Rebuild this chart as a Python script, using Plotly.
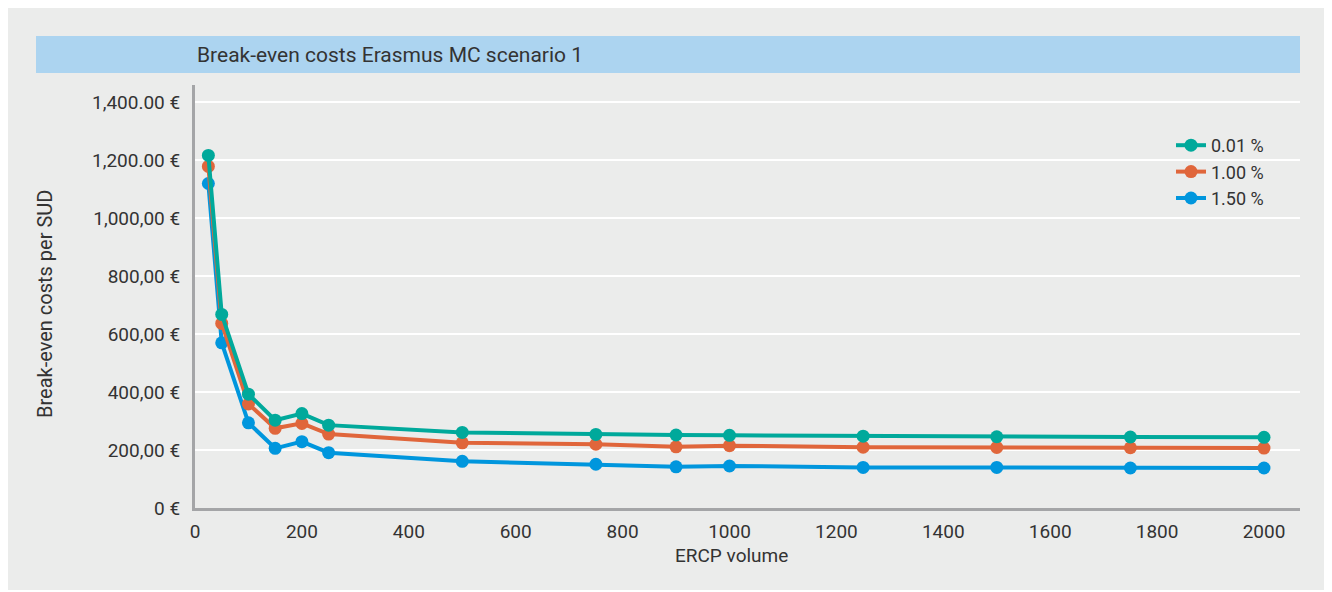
import plotly.graph_objects as go

volume = [25, 50, 100, 150, 200, 250, 500, 750, 900, 1000, 1250, 1500, 1750, 2000]
cost_001 = [1217, 668, 393, 303, 326, 286, 261, 254, 252, 251, 248, 246, 245, 244]
cost_100 = [1179, 637, 359, 275, 292, 255, 225, 220, 211, 215, 210, 209, 208, 207]
cost_150 = [1120, 570, 294, 206, 229, 191, 161, 151, 142, 145, 140, 140, 138, 138]
series_names = ["0.01 %", "1.00 %", "1.50 %"]
colors = ["#00a99b", "#e0663b", "#0096dd"]
y_tickvals = [0, 200, 400, 600, 800, 1000, 1200, 1400]
y_ticktext = ["0 €", "200,00 €", "400,00 €", "600,00 €", "800,00 €", "1,000,00 €", "1,200.00 €", "1,400.00 €"]
x_tickvals = [0, 200, 400, 600, 800, 1000, 1200, 1400, 1600, 1800, 2000]

FONT = "Roboto, Open Sans, sans-serif"
TXT = "#333333"

fig = go.Figure()
data = [cost_001, cost_100, cost_150]
# add blue first so teal is drawn on top; legend reversed to list teal first
for i in [2, 1, 0]:
    fig.add_trace(go.Scatter(
        x=volume, y=data[i], name=series_names[i], mode="lines+markers",
        line=dict(color=colors[i], width=4),
        marker=dict(color=colors[i], size=13),
    ))

OFF = 8  # page body margin
W, H = 1332 - OFF, 592 - OFF
L = 195 - OFF
T = 85 - OFF
R = W - (1300 - OFF)
B = H - (508 - OFF)
pw = W - L - R
ph = H - T - B

def px_x(p):
    return (p - OFF - L) / pw

def px_y(p):
    return (H - B - (p - OFF)) / ph

shapes = [
    dict(type="rect", xref="paper", yref="paper", x0=px_x(7), x1=px_x(1325), y0=px_y(590), y1=px_y(7),
         fillcolor="#ebeceb", line=dict(width=0), layer="below"),
    dict(type="rect", xref="paper", yref="paper", x0=px_x(36), x1=px_x(1300), y0=px_y(73), y1=px_y(36),
         fillcolor="#acd4f0", line=dict(width=0), layer="below"),
]

annotations = [
    dict(text="Break-even costs Erasmus MC scenario 1", xref="paper", yref="paper",
         x=px_x(195), y=px_y(55), xanchor="left", yanchor="middle", showarrow=False,
         font=dict(family=FONT, size=21, color=TXT)),
    dict(text="Break-even costs per SUD", xref="paper", yref="paper",
         x=px_x(45), y=px_y(304), xanchor="center", yanchor="middle", textangle=-90, showarrow=False,
         font=dict(family=FONT, size=20, color=TXT)),
    dict(text="ERCP volume", xref="paper", yref="paper",
         x=px_x(731), y=px_y(555), xanchor="center", yanchor="middle", showarrow=False,
         font=dict(family=FONT, size=19, color=TXT)),
]

fig.update_layout(
    width=W, height=H,
    margin=dict(l=L, r=R, t=T, b=B),
    paper_bgcolor="white", plot_bgcolor="#ebeceb",
    font=dict(family=FONT, size=19, color=TXT),
    shapes=shapes, annotations=annotations,
    showlegend=True,
    legend=dict(x=px_x(1171), y=px_y(127), xanchor="left", yanchor="top",
                bgcolor="rgba(0,0,0,0)", traceorder="reversed",
                font=dict(family=FONT, size=18, color=TXT), itemwidth=30),
    xaxis=dict(range=[0, (1300 - 195) / 0.5345], tickvals=x_tickvals, showgrid=False,
               zeroline=False, showline=True, linecolor="#a4a5a7", linewidth=3,
               ticks="", ticklabelstandoff=4, tickfont=dict(family=FONT, size=19, color=TXT)),
    yaxis=dict(range=[0, 1460], tickvals=y_tickvals, ticktext=y_ticktext, showgrid=True,
               gridcolor="white", gridwidth=2, zeroline=False, showline=True,
               linecolor="#a4a5a7", linewidth=3, ticks="", ticklabelstandoff=8,
               tickfont=dict(family=FONT, size=19, color=TXT)),
)

fig.write_html("out.html")
